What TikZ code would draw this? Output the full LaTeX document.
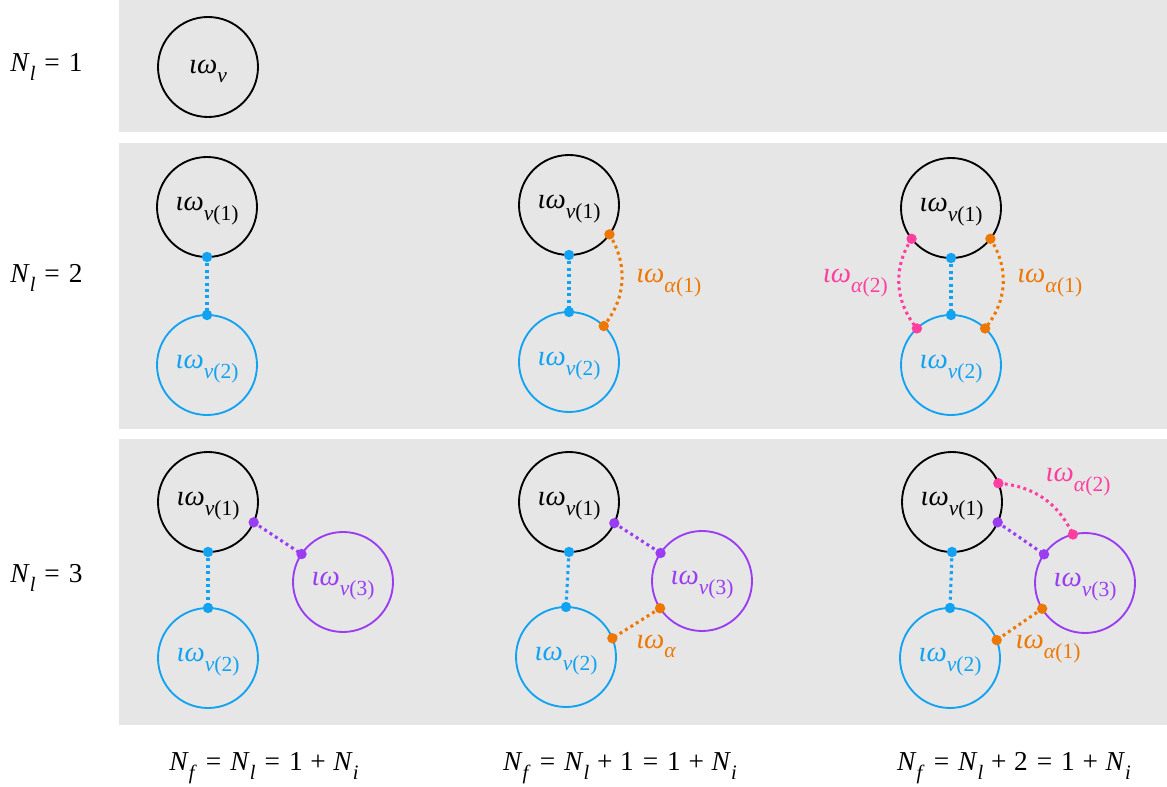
\documentclass[tikz,border=0pt]{standalone}
\usepackage{fontspec}
\setmainfont{Liberation Serif}
\usepackage{graphicx}
\definecolor{panel}{HTML}{E6E6E6}
\definecolor{cblue}{HTML}{12A2F2}
\definecolor{cpurple}{HTML}{9A3DF2}
\definecolor{corange}{HTML}{EE7700}
\definecolor{cpink}{HTML}{FF3FA0}
\newcommand{\lo}[1]{\raisebox{-0.32em}{\scalebox{0.75}{#1}}}
\newcommand{\iw}[1]{\textit{ιω}\lo{#1}}
\newcommand{\iwc}[1]{\raisebox{-3pt}[\height][\depth]{\iw{#1}}}
\newcommand{\eqs}{\hspace{0.33em}=\hspace{0.33em}}
\newcommand{\pls}{\hspace{0.28em}+\hspace{0.28em}}
\begin{document}
\begin{tikzpicture}[x=0.75pt,y=-0.75pt,
  cir/.style={circle, draw=#1, text=#1, line width=1.4pt, minimum size=75pt, inner sep=0pt, outer sep=0pt, font=\fontsize{21.5}{24}\selectfont},
  cir/.default=black,
  lab/.style={text=#1, inner sep=0pt, font=\fontsize{21.5}{24}\selectfont},
  eq/.style={inner sep=0pt, font=\fontsize{20.5}{24}\selectfont},
  link/.style={draw=#1, line width=2.3pt, dash pattern=on 2.2pt off 2.6pt}]
\useasboundingbox (0,0) rectangle (1167,787);
\fill[panel] (119,0) rectangle (1167,132);
\fill[panel] (119,143) rectangle (1167,429);
\fill[panel] (119,439) rectangle (1167,725);

% left labels
\node[eq,anchor=west] (L1) at (10,67) {\textit{N}\lo{\textit{l}}\eqs 1};
\node[eq,anchor=west] (L2) at (10,278) {\textit{N}\lo{\textit{l}}\eqs 2};
\node[eq,anchor=west] (L3) at (10,578) {\textit{N}\lo{\textit{l}}\eqs 3};

% row 1
\node[cir] (r1a) at (208,67) {\iwc{\textit{ν}}};

% row 2 col 1
\node[cir] (p1a) at (207,207) {\iwc{\textit{ν}(1)}};
\node[cir=cblue] (p1b) at (207,365) {\iwc{\textit{ν}(2)}};
\draw[link=cblue] (p1a.-90) -- (p1b.90);
\fill[cblue] (p1a.-90) circle[radius=3.9pt] (p1b.90) circle[radius=3.9pt];

% row 2 col 2
\node[cir] (p2a) at (569,205) {\iwc{\textit{ν}(1)}};
\node[cir=cblue] (p2b) at (569,362) {\iwc{\textit{ν}(2)}};
\draw[link=cblue] (p2a.-90) -- (p2b.90);
\draw[link=corange] (p2a.-36) to[bend left=35] (p2b.46);
\fill[cblue] (p2a.-90) circle[radius=3.9pt] (p2b.90) circle[radius=3.9pt];
\fill[corange] (p2a.-36) circle[radius=3.9pt] (p2b.46) circle[radius=3.9pt];
\node[lab=corange,anchor=west] (p2l) at (636,283) {\iw{\textit{α}(1)}};

% row 2 col 3
\node[cir] (p3a) at (951,208) {\iwc{\textit{ν}(1)}};
\node[cir=cblue] (p3b) at (951,365) {\iwc{\textit{ν}(2)}};
\draw[link=cblue] (p3a.-90) -- (p3b.90);
\draw[link=corange] (p3a.-38) to[bend left=36] (p3b.47);
\draw[link=cpink] (p3a.218) to[bend right=36] (p3b.133);
\fill[cblue] (p3a.-90) circle[radius=3.9pt] (p3b.90) circle[radius=3.9pt];
\fill[corange] (p3a.-38) circle[radius=3.9pt] (p3b.47) circle[radius=3.9pt];
\fill[cpink] (p3a.218) circle[radius=3.9pt] (p3b.133) circle[radius=3.9pt];
\node[lab=cpink,anchor=east] (p3l2) at (888,283) {\iw{\textit{α}(2)}};
\node[lab=corange,anchor=west] (p3l1) at (1017,283) {\iw{\textit{α}(1)}};

% row 3 col 1
\node[cir] (q1a) at (208,502) {\iwc{\textit{ν}(1)}};
\node[cir=cblue] (q1b) at (208,658) {\iwc{\textit{ν}(2)}};
\node[cir=cpurple] (q1c) at (343,582) {\iwc{\textit{ν}(3)}};
\draw[link=cblue] (q1a.-90) -- (q1b.90);
\draw[link=cpurple] (q1a.-24) -- (q1c.146);
\fill[cblue] (q1a.-90) circle[radius=3.9pt] (q1b.90) circle[radius=3.9pt];
\fill[cpurple] (q1a.-24) circle[radius=3.9pt] (q1c.146) circle[radius=3.9pt];

% row 3 col 2
\node[cir] (q2a) at (569,502) {\iwc{\textit{ν}(1)}};
\node[cir=cblue] (q2b) at (566,657) {\iwc{\textit{ν}(2)}};
\node[cir=cpurple] (q2c) at (702,581) {\iwc{\textit{ν}(3)}};
\draw[link=cblue] (q2a.-90) -- (q2b.90);
\draw[link=cpurple] (q2a.-25) -- (q2c.146);
\draw[link=corange] (q2c.213) -- (q2b.22);
\fill[cblue] (q2a.-90) circle[radius=3.9pt] (q2b.90) circle[radius=3.9pt];
\fill[cpurple] (q2a.-25) circle[radius=3.9pt] (q2c.146) circle[radius=3.9pt];
\fill[corange] (q2c.213) circle[radius=3.9pt] (q2b.22) circle[radius=3.9pt];
\node[lab=corange,anchor=west] (q2l) at (636,646) {\iw{\textit{α}}};

% row 3 col 3
\node[cir] (q3a) at (952,502) {\iwc{\textit{ν}(1)}};
\node[cir=cblue] (q3b) at (950,658) {\iwc{\textit{ν}(2)}};
\node[cir=cpurple] (q3c) at (1085,583) {\iwc{\textit{ν}(3)}};
\draw[link=cblue] (q3a.-90) -- (q3b.90);
\draw[link=cpurple] (q3a.-24) -- (q3c.145);
\draw[link=corange] (q3c.211) -- (q3b.21);
\draw[link=cpink] (q3a.22) to[bend left=30] (q3c.104);
\fill[cblue] (q3a.-90) circle[radius=3.9pt] (q3b.90) circle[radius=3.9pt];
\fill[cpurple] (q3a.-24) circle[radius=3.9pt] (q3c.145) circle[radius=3.9pt];
\fill[corange] (q3c.211) circle[radius=3.9pt] (q3b.21) circle[radius=3.9pt];
\fill[cpink] (q3a.22) circle[radius=3.9pt] (q3c.104) circle[radius=3.9pt];
\node[lab=cpink] (q3l2) at (1078,482) {\iw{\textit{α}(2)}};
\node[lab=corange] (q3l1) at (1048,649) {\iw{\textit{α}(1)}};

% bottom formulas
\node[eq] (B1) at (264,768) {\textit{N}\lo{\textit{f}}\eqs\textit{N}\lo{\textit{l}}\eqs 1\pls\textit{N}\lo{\textit{i}}};
\node[eq] (B2) at (620,768) {\textit{N}\lo{\textit{f}}\eqs\textit{N}\lo{\textit{l}}\pls 1\eqs 1\pls\textit{N}\lo{\textit{i}}};
\node[eq] (B3) at (1014,768) {\textit{N}\lo{\textit{f}}\eqs\textit{N}\lo{\textit{l}}\pls 2\eqs 1\pls\textit{N}\lo{\textit{i}}};
\end{tikzpicture}
\end{document}
